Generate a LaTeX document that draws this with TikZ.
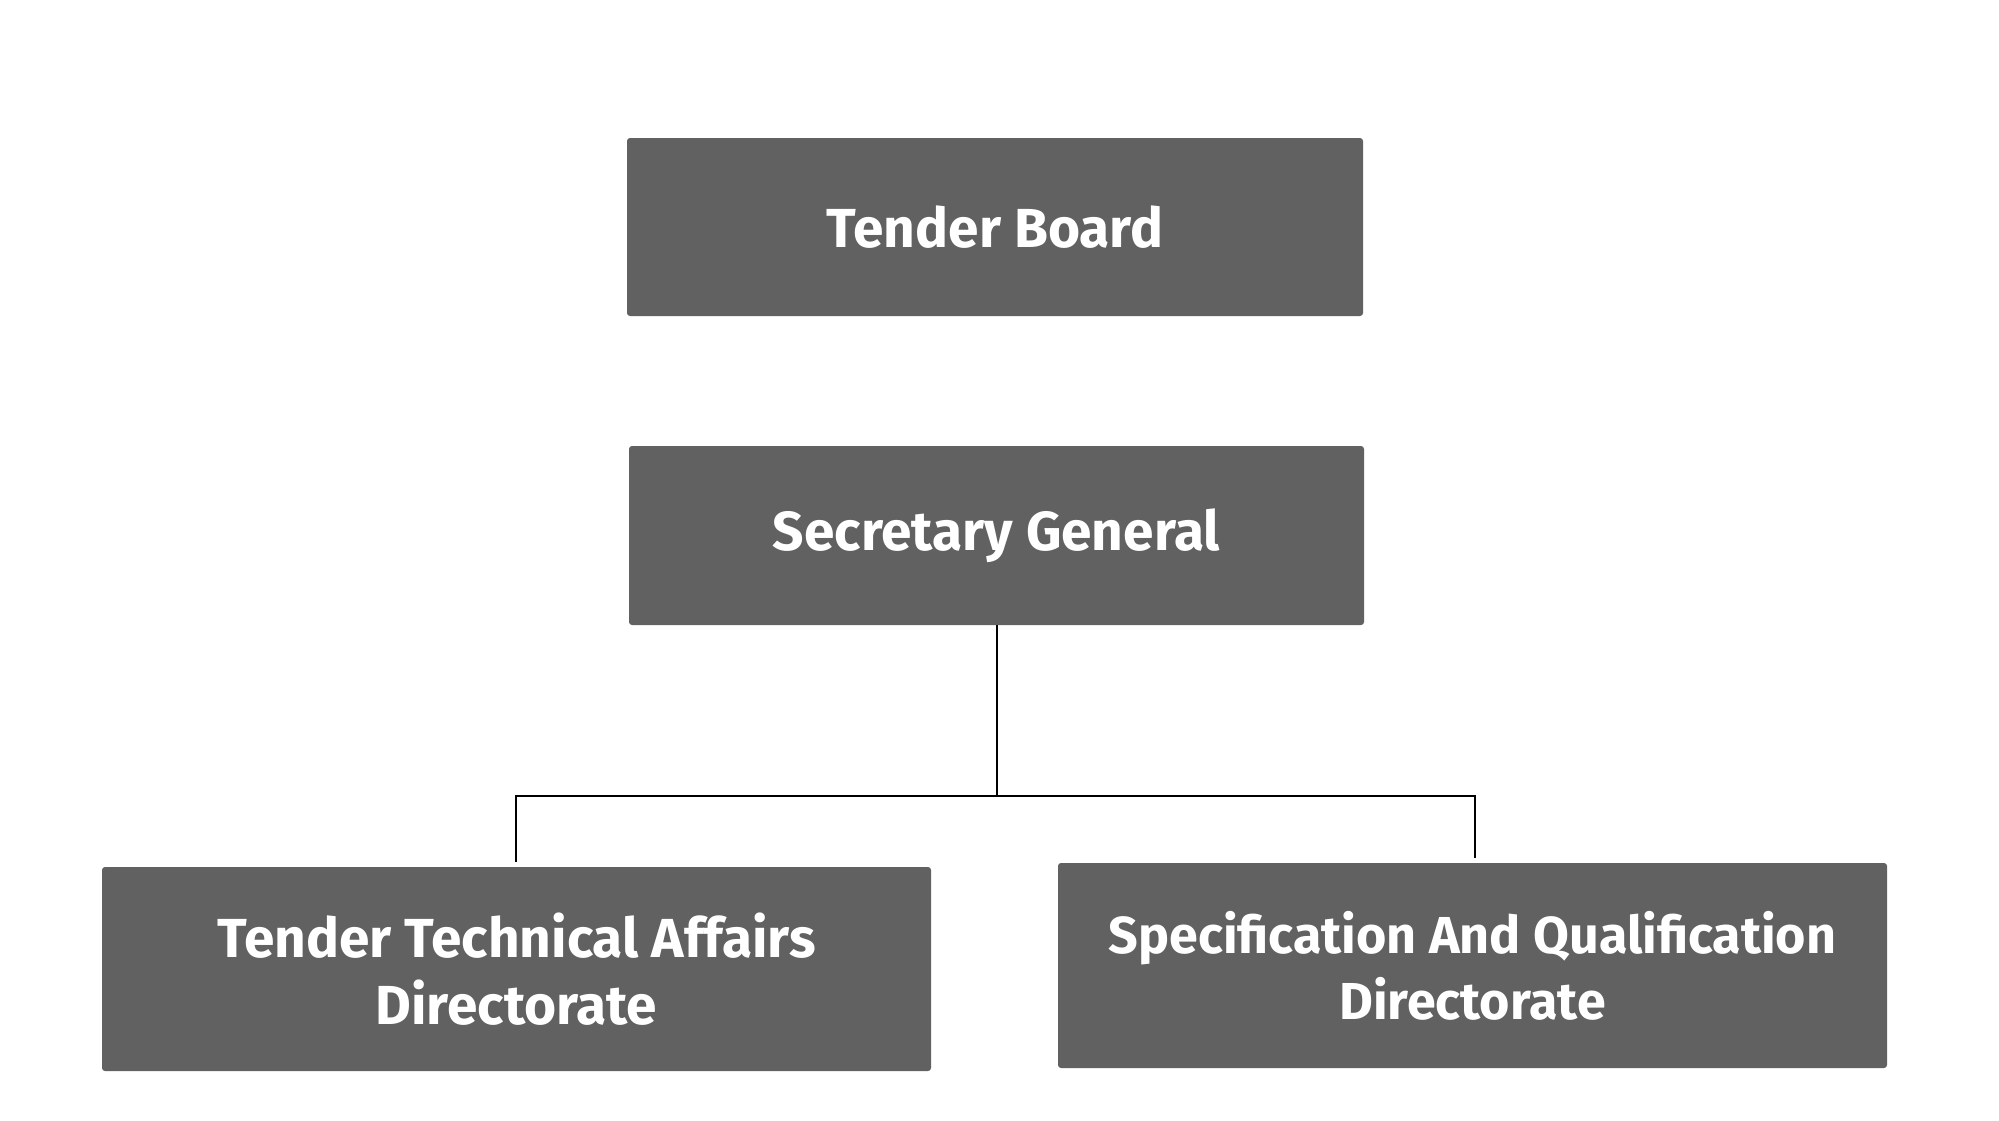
\documentclass[tikz,border=0pt]{standalone}
\usepackage{fontspec}
\setmainfont{Fira Sans}[BoldFont={Fira Sans Bold}]
\definecolor{boxgray}{HTML}{616161}
\begin{document}
\begin{tikzpicture}[x=1pt,y=-1pt,
  orgbox/.style={fill=boxgray, rounded corners=3pt, text=white, font=\fontsize{55}{67}\selectfont\bfseries, align=center, inner sep=0pt},
  narrowtext/.style={font=\fontsize{52}{66}\selectfont\bfseries},
  link/.style={draw=black, line width=1.8pt}]
\useasboundingbox[fill=white] (0,0) rectangle (1999,1120);
\node[orgbox, minimum width=736pt, minimum height=178pt] (tb) at (995,227) {Tender Board};
\node[orgbox, minimum width=735pt, minimum height=179pt] (sg) at (996.5,535.5) {Secretary General};
\node[orgbox, minimum width=829pt, minimum height=204pt] (ta) at (516.5,969) {Tender Technical Affairs\\Directorate};
\node[orgbox, narrowtext, minimum width=829pt, minimum height=205pt] (sq) at (1472.5,965.5) {Specification And Qualification\\Directorate};
\coordinate (mid) at (997,796);
\coordinate (lt) at (516,862);
\coordinate (rt) at (1475,858);
\draw[link] (sg.south -| mid) -- (mid);
\draw[link] (lt) |- (mid) -| (rt);
\end{tikzpicture}
\end{document}
